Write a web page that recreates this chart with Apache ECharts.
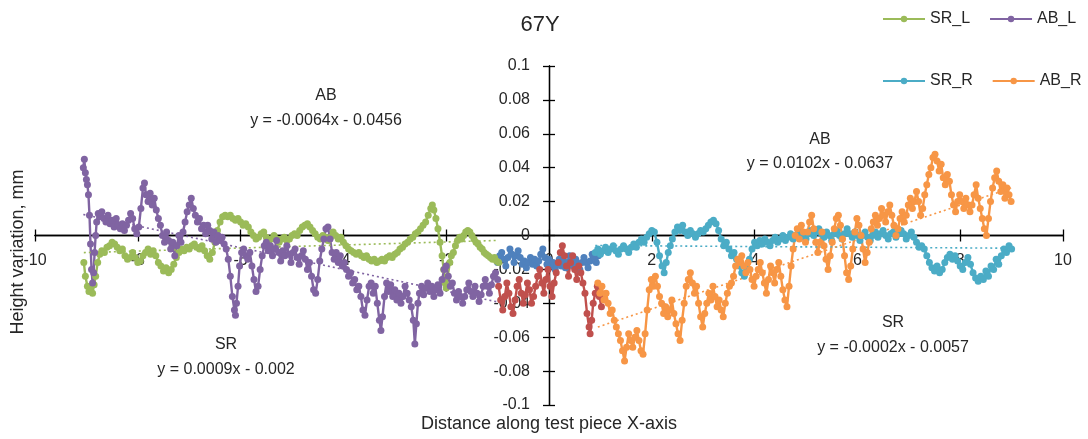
<!DOCTYPE html>
<html><head><meta charset="utf-8">
<script src="https://cdn.jsdelivr.net/npm/echarts@6/dist/echarts.min.js"></script>
<style>html,body{margin:0;padding:0;background:#fff}#c{width:1088px;height:439px}</style>
</head><body><div id="c"></div>
<script>
// ---- data (x = distance, y = height variation mm) ----
const srC = [[-1.00,-0.016],[-0.96,-0.012],[-0.92,-0.010],[-0.88,-0.014],[-0.84,-0.018],[-0.80,-0.013],[-0.76,-0.008],[-0.72,-0.011],[-0.68,-0.016],[-0.64,-0.012],[-0.60,-0.009],[-0.56,-0.013],[-0.52,-0.017],[-0.48,-0.015],[-0.44,-0.019],[-0.40,-0.016],[-0.36,-0.013],[-0.32,-0.017],[-0.28,-0.014],[-0.24,-0.018],[-0.20,-0.015],[-0.16,-0.011],[-0.12,-0.008],[-0.08,-0.013],[-0.04,-0.017],[0.00,-0.014],[0.04,-0.018],[0.08,-0.016],[0.12,-0.020],[0.16,-0.017],[0.20,-0.014],[0.24,-0.018],[0.28,-0.015],[0.32,-0.019],[0.36,-0.016],[0.40,-0.012],[0.44,-0.015],[0.48,-0.018],[0.52,-0.014],[0.56,-0.017],[0.60,-0.020],[0.64,-0.016],[0.68,-0.013],[0.72,-0.016],[0.76,-0.019],[0.80,-0.015],[0.84,-0.011],[0.88,-0.013],[0.92,-0.016],[0.96,-0.012]];
const abC = [[-0.98,-0.030],[-0.94,-0.038],[-0.90,-0.044],[-0.86,-0.036],[-0.82,-0.028],[-0.78,-0.034],[-0.74,-0.042],[-0.70,-0.046],[-0.66,-0.038],[-0.62,-0.030],[-0.58,-0.026],[-0.54,-0.034],[-0.50,-0.040],[-0.46,-0.035],[-0.42,-0.028],[-0.38,-0.032],[-0.34,-0.040],[-0.30,-0.036],[-0.26,-0.030],[-0.22,-0.024],[-0.18,-0.020],[-0.14,-0.028],[-0.10,-0.034],[-0.06,-0.026],[-0.02,-0.020],[0.02,-0.030],[0.06,-0.036],[0.10,-0.028],[0.14,-0.022],[0.18,-0.016],[0.22,-0.010],[0.26,-0.006],[0.30,-0.012],[0.34,-0.018],[0.38,-0.024],[0.42,-0.016],[0.46,-0.012],[0.50,-0.020],[0.54,-0.026],[0.58,-0.018],[0.62,-0.022],[0.66,-0.028],[0.70,-0.034],[0.74,-0.046],[0.78,-0.054],[0.80,-0.058],[0.83,-0.050],[0.86,-0.040],[0.90,-0.034],[0.94,-0.030],[0.98,-0.036],[1.02,-0.042]];
const srL = [[-9.05,-0.016],[-9.02,-0.024],[-8.98,-0.030],[-8.95,-0.033],[-8.92,-0.031],[-8.88,-0.034],[-8.85,-0.029],[-8.82,-0.024],[-8.78,-0.016],[-8.74,-0.011],[-8.70,-0.009],[-8.65,-0.010],[-8.60,-0.007],[-8.55,-0.006],[-8.50,-0.004],[-8.45,-0.005],[-8.40,-0.007],[-8.35,-0.009],[-8.30,-0.008],[-8.25,-0.012],[-8.20,-0.014],[-8.15,-0.013],[-8.10,-0.010],[-8.05,-0.013],[-8.00,-0.016],[-7.95,-0.015],[-7.90,-0.012],[-7.85,-0.010],[-7.80,-0.008],[-7.75,-0.011],[-7.70,-0.009],[-7.65,-0.012],[-7.60,-0.016],[-7.55,-0.018],[-7.50,-0.021],[-7.45,-0.019],[-7.40,-0.022],[-7.35,-0.020],[-7.30,-0.017],[-7.25,-0.013],[-7.20,-0.010],[-7.15,-0.008],[-7.10,-0.009],[-7.05,-0.007],[-7.00,-0.008],[-6.95,-0.006],[-6.90,-0.005],[-6.85,-0.007],[-6.80,-0.008],[-6.75,-0.006],[-6.70,-0.009],[-6.65,-0.012],[-6.60,-0.014],[-6.55,-0.010],[-6.50,-0.004],[-6.45,0.003],[-6.40,0.008],[-6.35,0.011],[-6.30,0.012],[-6.25,0.011],[-6.20,0.012],[-6.15,0.010],[-6.10,0.009],[-6.05,0.010],[-6.00,0.008],[-5.95,0.006],[-5.90,0.007],[-5.85,0.005],[-5.80,0.002],[-5.75,0.000],[-5.70,-0.002],[-5.65,-0.001],[-5.60,0.001],[-5.55,0.002],[-5.50,-0.001],[-5.45,-0.003],[-5.40,-0.002],[-5.35,0.000],[-5.30,-0.002],[-5.25,-0.004],[-5.20,-0.002],[-5.15,-0.001],[-5.10,-0.003],[-5.05,-0.002],[-5.00,0.000],[-4.95,0.001],[-4.90,0.000],[-4.85,0.003],[-4.80,0.005],[-4.75,0.006],[-4.70,0.007],[-4.65,0.005],[-4.60,0.003],[-4.55,0.001],[-4.50,-0.001],[-4.45,-0.002],[-4.40,0.000],[-4.35,-0.001],[-4.30,-0.003],[-4.25,-0.001],[-4.20,0.002],[-4.15,0.000],[-4.10,-0.002],[-4.05,-0.001],[-4.00,-0.004],[-3.95,-0.006],[-3.90,-0.008],[-3.85,-0.009],[-3.80,-0.010],[-3.75,-0.011],[-3.70,-0.010],[-3.65,-0.012],[-3.60,-0.013],[-3.55,-0.012],[-3.50,-0.014],[-3.45,-0.015],[-3.40,-0.014],[-3.35,-0.016],[-3.30,-0.015],[-3.25,-0.014],[-3.20,-0.015],[-3.15,-0.013],[-3.10,-0.012],[-3.05,-0.013],[-3.00,-0.011],[-2.95,-0.010],[-2.90,-0.008],[-2.85,-0.007],[-2.80,-0.005],[-2.75,-0.004],[-2.70,-0.002],[-2.65,-0.001],[-2.60,0.001],[-2.55,0.002],[-2.50,0.004],[-2.45,0.006],[-2.40,0.008],[-2.35,0.012],[-2.30,0.016],[-2.27,0.018],[-2.24,0.015],[-2.20,0.010],[-2.16,0.004],[-2.12,-0.004],[-2.08,-0.012],[-2.05,-0.020],[-2.02,-0.028],[-2.00,-0.031],[-1.97,-0.024],[-1.93,-0.016],[-1.90,-0.012],[-1.86,-0.010],[-1.82,-0.006],[-1.78,-0.003],[-1.74,-0.001],[-1.70,-0.002],[-1.66,0.000],[-1.62,0.002],[-1.58,0.003],[-1.54,0.002],[-1.50,0.000],[-1.46,-0.002],[-1.42,-0.004],[-1.38,-0.005],[-1.34,-0.007],[-1.30,-0.008],[-1.26,-0.010],[-1.22,-0.011],[-1.18,-0.012],[-1.14,-0.013],[-1.10,-0.014],[-1.06,-0.013],[-1.02,-0.015],[-0.98,-0.016]];
const abL = [[-9.06,0.040],[-9.04,0.045],[-9.02,0.037],[-9.00,0.033],[-8.98,0.030],[-8.96,0.024],[-8.94,0.012],[-8.92,-0.005],[-8.90,-0.020],[-8.88,-0.028],[-8.86,-0.022],[-8.84,-0.010],[-8.82,0.000],[-8.80,0.008],[-8.77,0.013],[-8.74,0.011],[-8.70,0.014],[-8.66,0.010],[-8.62,0.008],[-8.58,0.012],[-8.54,0.007],[-8.50,0.009],[-8.46,0.005],[-8.42,0.010],[-8.38,0.006],[-8.34,0.004],[-8.30,0.007],[-8.26,0.003],[-8.22,0.006],[-8.18,0.009],[-8.14,0.013],[-8.10,0.010],[-8.06,0.004],[-8.02,0.001],[-7.98,0.005],[-7.94,0.016],[-7.90,0.028],[-7.87,0.031],[-7.84,0.024],[-7.80,0.020],[-7.76,0.025],[-7.72,0.018],[-7.68,0.022],[-7.64,0.015],[-7.60,0.010],[-7.56,0.006],[-7.52,0.000],[-7.48,-0.004],[-7.44,0.002],[-7.40,-0.003],[-7.36,-0.008],[-7.32,-0.004],[-7.28,-0.012],[-7.24,-0.006],[-7.20,0.000],[-7.16,-0.004],[-7.12,0.002],[-7.08,0.008],[-7.04,0.014],[-7.00,0.018],[-6.96,0.022],[-6.92,0.016],[-6.88,0.012],[-6.84,0.008],[-6.80,0.010],[-6.76,0.004],[-6.72,0.006],[-6.68,0.001],[-6.64,0.006],[-6.60,0.003],[-6.56,-0.002],[-6.52,0.002],[-6.48,-0.004],[-6.44,0.000],[-6.40,-0.003],[-6.36,-0.001],[-6.32,-0.005],[-6.28,-0.008],[-6.24,-0.014],[-6.20,-0.024],[-6.16,-0.036],[-6.12,-0.044],[-6.10,-0.047],[-6.08,-0.040],[-6.05,-0.030],[-6.02,-0.018],[-5.98,-0.010],[-5.94,-0.008],[-5.90,-0.012],[-5.86,-0.014],[-5.82,-0.010],[-5.78,-0.018],[-5.74,-0.026],[-5.70,-0.033],[-5.66,-0.030],[-5.62,-0.020],[-5.58,-0.012],[-5.54,-0.006],[-5.50,-0.004],[-5.46,-0.009],[-5.42,-0.006],[-5.38,-0.012],[-5.34,-0.008],[-5.30,-0.003],[-5.26,-0.010],[-5.22,-0.015],[-5.18,-0.009],[-5.14,-0.012],[-5.10,-0.006],[-5.06,-0.011],[-5.02,-0.016],[-4.98,-0.010],[-4.94,-0.008],[-4.90,-0.013],[-4.86,-0.017],[-4.82,-0.012],[-4.78,-0.009],[-4.74,-0.014],[-4.70,-0.020],[-4.66,-0.016],[-4.62,-0.024],[-4.58,-0.032],[-4.54,-0.034],[-4.50,-0.026],[-4.46,-0.015],[-4.42,-0.008],[-4.38,-0.002],[-4.34,0.004],[-4.30,0.005],[-4.26,-0.002],[-4.22,-0.010],[-4.18,-0.014],[-4.14,-0.010],[-4.10,-0.016],[-4.06,-0.012],[-4.02,-0.018],[-3.98,-0.016],[-3.94,-0.020],[-3.90,-0.024],[-3.86,-0.022],[-3.82,-0.028],[-3.78,-0.026],[-3.74,-0.032],[-3.70,-0.030],[-3.66,-0.036],[-3.62,-0.044],[-3.58,-0.047],[-3.54,-0.038],[-3.50,-0.030],[-3.46,-0.028],[-3.42,-0.034],[-3.38,-0.030],[-3.34,-0.040],[-3.30,-0.050],[-3.27,-0.056],[-3.24,-0.048],[-3.20,-0.036],[-3.16,-0.028],[-3.12,-0.033],[-3.08,-0.029],[-3.04,-0.036],[-3.00,-0.032],[-2.96,-0.038],[-2.92,-0.034],[-2.88,-0.040],[-2.84,-0.036],[-2.80,-0.030],[-2.76,-0.034],[-2.72,-0.038],[-2.68,-0.042],[-2.64,-0.050],[-2.61,-0.064],[-2.58,-0.052],[-2.55,-0.040],[-2.52,-0.034],[-2.48,-0.030],[-2.44,-0.035],[-2.40,-0.031],[-2.36,-0.028],[-2.32,-0.033],[-2.28,-0.030],[-2.24,-0.036],[-2.20,-0.032],[-2.16,-0.029],[-2.12,-0.034],[-2.08,-0.026],[-2.04,-0.020],[-2.00,-0.018],[-1.96,-0.024],[-1.92,-0.030],[-1.88,-0.028],[-1.84,-0.034],[-1.80,-0.038],[-1.76,-0.033],[-1.72,-0.036],[-1.68,-0.040],[-1.64,-0.036],[-1.60,-0.032],[-1.56,-0.028],[-1.52,-0.033],[-1.48,-0.036],[-1.44,-0.030],[-1.40,-0.034],[-1.36,-0.039],[-1.32,-0.035],[-1.28,-0.030],[-1.24,-0.026],[-1.20,-0.030],[-1.16,-0.034],[-1.12,-0.029],[-1.08,-0.024],[-1.04,-0.022],[-1.00,-0.026]];
const srR = [[0.90,-0.010],[0.95,-0.008],[1.00,-0.011],[1.05,-0.009],[1.10,-0.007],[1.15,-0.010],[1.20,-0.008],[1.25,-0.006],[1.30,-0.009],[1.35,-0.011],[1.40,-0.008],[1.45,-0.006],[1.50,-0.008],[1.55,-0.010],[1.60,-0.007],[1.65,-0.005],[1.70,-0.007],[1.75,-0.004],[1.80,-0.002],[1.85,-0.004],[1.90,-0.001],[1.95,0.001],[2.00,0.003],[2.05,0.002],[2.10,-0.004],[2.15,-0.012],[2.20,-0.018],[2.24,-0.022],[2.28,-0.016],[2.32,-0.010],[2.36,-0.006],[2.40,-0.002],[2.45,0.002],[2.50,0.005],[2.55,0.003],[2.60,0.006],[2.65,0.002],[2.70,0.000],[2.75,0.003],[2.80,0.001],[2.85,-0.001],[2.90,0.001],[2.95,0.003],[3.00,0.002],[3.05,0.004],[3.10,0.006],[3.15,0.008],[3.20,0.009],[3.25,0.007],[3.30,0.003],[3.35,-0.002],[3.40,-0.006],[3.45,-0.004],[3.50,-0.008],[3.55,-0.012],[3.60,-0.010],[3.65,-0.014],[3.70,-0.018],[3.75,-0.022],[3.80,-0.024],[3.85,-0.020],[3.90,-0.014],[3.95,-0.008],[4.00,-0.004],[4.05,-0.006],[4.10,-0.003],[4.15,-0.005],[4.20,-0.002],[4.25,-0.004],[4.30,-0.006],[4.35,-0.003],[4.40,-0.001],[4.45,-0.004],[4.50,-0.002],[4.55,0.000],[4.60,-0.003],[4.65,-0.001],[4.70,0.001],[4.75,-0.002],[4.80,0.000],[4.85,0.002],[4.90,-0.001],[4.95,0.001],[5.00,-0.002],[5.05,0.001],[5.10,0.003],[5.15,0.000],[5.20,0.002],[5.25,0.004],[5.30,0.001],[5.35,-0.001],[5.40,0.002],[5.45,0.000],[5.50,-0.003],[5.55,0.001],[5.60,0.003],[5.65,0.000],[5.70,-0.002],[5.75,0.001],[5.80,0.004],[5.85,0.001],[5.90,-0.001],[5.95,0.002],[6.00,0.000],[6.05,-0.003],[6.10,0.000],[6.15,0.002],[6.20,-0.001],[6.25,-0.003],[6.30,0.000],[6.35,0.002],[6.40,-0.001],[6.45,0.001],[6.50,0.003],[6.55,0.000],[6.60,-0.002],[6.65,0.001],[6.70,0.002],[6.75,-0.001],[6.80,0.001],[6.85,0.003],[6.90,0.001],[6.95,-0.002],[7.00,0.000],[7.05,0.002],[7.10,-0.001],[7.15,-0.004],[7.20,-0.007],[7.25,-0.006],[7.30,-0.008],[7.35,-0.012],[7.40,-0.016],[7.45,-0.019],[7.50,-0.021],[7.55,-0.018],[7.60,-0.022],[7.65,-0.020],[7.70,-0.016],[7.75,-0.013],[7.80,-0.011],[7.85,-0.014],[7.90,-0.012],[7.95,-0.015],[8.00,-0.018],[8.05,-0.020],[8.10,-0.016],[8.15,-0.013],[8.20,-0.017],[8.25,-0.022],[8.30,-0.025],[8.35,-0.027],[8.40,-0.024],[8.45,-0.026],[8.50,-0.021],[8.55,-0.024],[8.60,-0.018],[8.65,-0.020],[8.70,-0.014],[8.75,-0.017],[8.80,-0.012],[8.85,-0.008],[8.90,-0.010],[8.95,-0.006],[9.00,-0.008]];
const abR = [[0.95,-0.028],[0.99,-0.034],[1.03,-0.030],[1.07,-0.038],[1.11,-0.034],[1.15,-0.040],[1.19,-0.046],[1.23,-0.044],[1.27,-0.050],[1.31,-0.054],[1.35,-0.058],[1.39,-0.062],[1.43,-0.068],[1.47,-0.074],[1.51,-0.066],[1.55,-0.058],[1.59,-0.062],[1.63,-0.066],[1.67,-0.060],[1.71,-0.056],[1.75,-0.062],[1.79,-0.068],[1.83,-0.070],[1.87,-0.058],[1.91,-0.044],[1.95,-0.032],[1.99,-0.026],[2.03,-0.030],[2.07,-0.024],[2.11,-0.030],[2.15,-0.036],[2.19,-0.040],[2.23,-0.046],[2.27,-0.042],[2.31,-0.048],[2.35,-0.044],[2.39,-0.038],[2.43,-0.046],[2.47,-0.052],[2.51,-0.058],[2.55,-0.062],[2.59,-0.050],[2.63,-0.040],[2.67,-0.030],[2.71,-0.026],[2.75,-0.022],[2.79,-0.028],[2.83,-0.034],[2.87,-0.030],[2.91,-0.040],[2.95,-0.048],[2.99,-0.054],[3.03,-0.046],[3.07,-0.040],[3.11,-0.034],[3.15,-0.038],[3.19,-0.030],[3.23,-0.036],[3.27,-0.042],[3.31,-0.038],[3.35,-0.044],[3.39,-0.048],[3.43,-0.040],[3.47,-0.034],[3.51,-0.030],[3.55,-0.028],[3.59,-0.024],[3.63,-0.018],[3.67,-0.014],[3.71,-0.016],[3.75,-0.012],[3.79,-0.018],[3.83,-0.022],[3.87,-0.016],[3.91,-0.020],[3.95,-0.026],[3.99,-0.030],[4.03,-0.024],[4.07,-0.020],[4.11,-0.016],[4.15,-0.022],[4.19,-0.028],[4.23,-0.034],[4.27,-0.026],[4.31,-0.018],[4.35,-0.022],[4.39,-0.028],[4.43,-0.020],[4.47,-0.016],[4.51,-0.024],[4.55,-0.032],[4.59,-0.038],[4.63,-0.042],[4.67,-0.030],[4.71,-0.018],[4.75,-0.008],[4.79,0.000],[4.83,0.004],[4.87,-0.002],[4.91,0.006],[4.95,0.002],[4.99,-0.004],[5.03,0.002],[5.07,0.008],[5.11,0.012],[5.15,0.004],[5.19,-0.004],[5.23,-0.010],[5.27,-0.004],[5.31,0.002],[5.35,-0.006],[5.39,-0.014],[5.43,-0.020],[5.47,-0.012],[5.51,-0.004],[5.55,0.004],[5.59,0.010],[5.63,0.012],[5.67,0.006],[5.71,-0.002],[5.75,-0.012],[5.79,-0.022],[5.83,-0.026],[5.87,-0.018],[5.91,-0.008],[5.95,0.002],[5.99,0.010],[6.03,0.006],[6.07,0.000],[6.11,-0.008],[6.15,-0.016],[6.19,-0.010],[6.23,-0.004],[6.27,0.004],[6.31,0.008],[6.35,0.012],[6.39,0.006],[6.43,0.010],[6.47,0.016],[6.51,0.012],[6.55,0.008],[6.59,0.014],[6.63,0.018],[6.67,0.012],[6.71,0.006],[6.75,0.000],[6.79,0.004],[6.83,0.010],[6.87,0.014],[6.91,0.008],[6.95,0.012],[6.99,0.018],[7.03,0.022],[7.07,0.016],[7.11,0.020],[7.15,0.026],[7.19,0.020],[7.23,0.012],[7.27,0.016],[7.31,0.024],[7.35,0.030],[7.39,0.036],[7.43,0.040],[7.47,0.046],[7.51,0.048],[7.55,0.044],[7.59,0.038],[7.63,0.042],[7.67,0.034],[7.71,0.030],[7.75,0.036],[7.79,0.032],[7.83,0.024],[7.87,0.018],[7.91,0.014],[7.95,0.020],[7.99,0.024],[8.03,0.020],[8.07,0.016],[8.11,0.022],[8.15,0.018],[8.19,0.014],[8.23,0.018],[8.27,0.024],[8.31,0.030],[8.35,0.022],[8.39,0.016],[8.43,0.010],[8.47,0.004],[8.51,0.000],[8.55,0.010],[8.59,0.020],[8.63,0.028],[8.67,0.034],[8.71,0.038],[8.75,0.032],[8.79,0.026],[8.83,0.030],[8.87,0.022],[8.91,0.028],[8.95,0.024],[8.99,0.020]];
// linear trendlines (end points, from the equations printed on the chart)
const srL_trend = [[-9.05,-0.0101],[-0.98,-0.0029]];
const abL_trend = [[-9.06,0.0124],[-1.00,-0.0392]];
const srR_trend = [[0.90,-0.0059],[9.00,-0.0075]];
const abR_trend = [[0.95,-0.0540],[8.99,0.0280]];
const xTicks = [-10,-8,-6,-4,-2,0,2,4,6,8,10];
const yTicks = [-0.1,-0.08,-0.06,-0.04,-0.02,0,0.02,0.04,0.06,0.08,0.1];
const equations = [
  {head:'AB', eq:'y = -0.0064x - 0.0456'},
  {head:'SR', eq:'y = 0.0009x - 0.002'},
  {head:'AB', eq:'y = 0.0102x - 0.0637'},
  {head:'SR', eq:'y = -0.0002x - 0.0057'}
];

const FONT = "'Liberation Sans', Arial, sans-serif";
const C = {blue:'#4F81BD', red:'#C0504D', green:'#9BBB59', purple:'#8064A2', cyan:'#4BACC6', orange:'#F79646'};

function pts(name, data, color) {
  return {name, type:'line', data, symbol:'circle', symbolSize:7, showSymbol:true,
    lineStyle:{width:2.4, color}, itemStyle:{color}, emphasis:{disabled:true}, animation:false};
}
function trend(name, data, color) {
  return {name, type:'line', data, symbol:'none', lineStyle:{width:1.6, color, type:[2,3]},
    itemStyle:{color}, emphasis:{disabled:true}, animation:false, silent:true};
}

// layout
const W = 1088, H = 439;
const G = {left:35, right:25, top:66, bottom:34};
const xMin = xTicks[0], xMax = xTicks[xTicks.length-1];
const yMin = yTicks[0], yMax = yTicks[yTicks.length-1];
const plotW = W - G.left - G.right, plotH = H - G.top - G.bottom;
const zeroFromBottom = plotH * (0 - yMin) / (yMax - yMin);
const zeroFromLeft = plotW * (0 - xMin) / (xMax - xMin);
const offXb = -zeroFromBottom, offXt = -(plotH - zeroFromBottom);
const offYl = -zeroFromLeft, offYr = -(plotW - zeroFromLeft);

const chart = echarts.init(document.getElementById('c'), null, {renderer:'canvas'});
const axisLineStyle = {color:'#000', width:1.3};
const fmtY = v => String(parseFloat(v.toFixed(2)));

const eqPos = [[326,96,121],[226,345,370],[820,140,164],[893,323,348]];
const graphic = [];
equations.forEach((e,i)=>{
  const p = eqPos[i];
  graphic.push({type:'text', x:p[0], y:p[1], style:{text:e.head, fill:'#262626', font:'16px '+FONT, align:'center', verticalAlign:'middle'}});
  graphic.push({type:'text', x:p[0], y:p[2], style:{text:e.eq, fill:'#262626', font:'16px '+FONT, align:'center', verticalAlign:'middle'}});
});
graphic.push({type:'text', x:18, y:252, rotation:Math.PI/2, style:{text:'Height variation, mm', fill:'#262626', font:'18px '+FONT, align:'center', verticalAlign:'middle'}});
graphic.push({type:'text', x:549, y:424, style:{text:'Distance along test piece X-axis', fill:'#262626', font:'18px '+FONT, align:'center', verticalAlign:'middle'}});
graphic.push({type:'text', x:540, y:25, style:{text:'67Y', fill:'#262626', font:'22px '+FONT, align:'center', verticalAlign:'middle'}});

const legendCommon = {itemWidth:42, itemHeight:8, itemGap:19, padding:0, width:220,
  textStyle:{fontSize:16, fontFamily:FONT, color:'#262626'}, selectedMode:false};

chart.setOption({
  backgroundColor:'#fff',
  animation:false,
  grid:{left:G.left, right:G.right, top:G.top, bottom:G.bottom, containLabel:false, outerBoundsMode:'none'},
  legend:[
    Object.assign({data:['SR_L','AB_L'], left:882, top:11}, legendCommon),
    Object.assign({data:['SR_R','AB_R'], left:882, top:73}, legendCommon)
  ],
  xAxis:[
    {type:'value', position:'bottom', offset:offXb, min:xMin, max:xMax, interval:2,
     axisLine:{onZero:false, lineStyle:axisLineStyle},
     axisTick:{show:true, length:6, lineStyle:axisLineStyle},
     axisLabel:{margin:17, fontSize:16, fontFamily:FONT, color:'#262626', showMinLabel:true, showMaxLabel:true},
     splitLine:{show:false}},
    {type:'value', position:'top', offset:offXt, min:xMin, max:xMax, interval:2,
     axisLine:{onZero:false, lineStyle:axisLineStyle},
     axisTick:{show:true, length:6, lineStyle:axisLineStyle},
     axisLabel:{show:false}, splitLine:{show:false}}
  ],
  yAxis:[
    {type:'value', position:'left', offset:offYl, min:yMin, max:yMax, interval:0.02,
     axisLine:{onZero:false, lineStyle:axisLineStyle},
     axisTick:{show:true, length:6, lineStyle:axisLineStyle},
     axisLabel:{margin:19, fontSize:16, fontFamily:FONT, color:'#262626', formatter:fmtY, showMinLabel:true, showMaxLabel:true},
     splitLine:{show:false}},
    {type:'value', position:'right', offset:offYr, min:yMin, max:yMax, interval:0.02,
     axisLine:{onZero:false, lineStyle:axisLineStyle},
     axisTick:{show:true, length:6, lineStyle:axisLineStyle},
     axisLabel:{show:false}, splitLine:{show:false}}
  ],
  series:[
    pts('SR_C', srC, C.blue),
    pts('AB_C', abC, C.red),
    pts('SR_L', srL, C.green),
    pts('AB_L', abL, C.purple),
    pts('SR_R', srR, C.cyan),
    pts('AB_R', abR, C.orange),
    trend('SR_L trend', srL_trend, C.green),
    trend('AB_L trend', abL_trend, C.purple),
    trend('SR_R trend', srR_trend, C.cyan),
    trend('AB_R trend', abR_trend, C.orange)
  ],
  graphic
});
</script></body></html>
